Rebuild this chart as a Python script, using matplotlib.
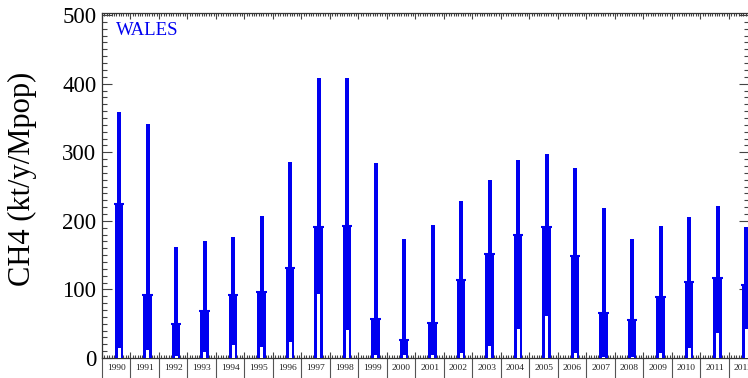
import matplotlib
matplotlib.use("Agg")
import matplotlib.pyplot as plt
from matplotlib.ticker import MultipleLocator
import matplotlib.transforms as mtransforms

years = list(range(1990, 2013))
max_vals = [359, 341, 162, 171, 177, 207, 286, 408, 408, 285, 174, 194, 229, 260,
            289, 297, 277, 219, 173, 192, 206, 222, 191]
mid_vals = [225, 92, 50, 68, 92, 96, 131, 191, 193, 57, 26, 51, 114, 151,
            180, 191, 148, 65, 56, 89, 111, 117, 107]
min_vals = [15, 11, 3, 9, 19, 16, 24, 94, 41, 5, 4, 4, 8, 18,
            43, 61, 8, 2, 2, 7, 14, 36, 43]
region = "WALES"
ylabel = "CH4 (kt/y/Mpop)"

blue = "#0000f0"
plt.rcParams['font.family'] = ['Liberation Serif', 'DejaVu Serif']

fig = plt.figure(figsize=(7.48, 3.78), dpi=100)
W, H = 748, 378
left, right, top, bottom = 102, 749, 13, 358
ax = fig.add_axes([left / W, 1 - bottom / H, (right - left) / W, (bottom - top) / H])

xs = [y + 0.6 for y in years]
ax.bar(xs, max_vals, width=0.14, color=blue, linewidth=0, zorder=2)
ax.bar(xs, mid_vals, width=0.29, color=blue, linewidth=0, zorder=3)
ax.hlines(mid_vals, [x - 0.18 for x in xs], [x + 0.18 for x in xs], color=blue, lw=1.5, zorder=3)
ax.bar(xs, min_vals, width=0.11, color="white", linewidth=0, zorder=4)

ax.set_xlim(1990, 1990 + (right - left) / 28.5)
ax.set_ylim(0, 503)

ax.yaxis.set_major_locator(MultipleLocator(100))
ax.yaxis.set_minor_locator(MultipleLocator(10))
ax.xaxis.set_major_locator(MultipleLocator(1))
ax.xaxis.set_minor_locator(MultipleLocator(1 / 12))
ax.tick_params(axis='both', which='both', direction='in', top=True, right=True,
               color='#444444', width=0.8)
ax.tick_params(axis='both', which='major', length=7)
ax.tick_params(axis='both', which='minor', length=3.5)
ax.tick_params(axis='x', which='major', length=4)
ax.tick_params(axis='x', which='minor', length=2.5)
ax.tick_params(axis='x', labelbottom=False)
ax.tick_params(axis='y', labelsize=16.5, pad=4)
for s in ax.spines.values():
    s.set_linewidth(0.9)
    s.set_color('#333333')

ax.set_ylabel(ylabel, fontsize=22)
ax.yaxis.set_label_coords(-0.1005, 0.519)

ax.text(1990.5, 490, region, color=blue, fontsize=13.5, va='top', ha='left')

trans = mtransforms.blended_transform_factory(ax.transData, ax.transAxes)
for y in years:
    ax.plot([y, y], [0, -0.06], transform=trans, color='#555555', lw=0.8, clip_on=False)
    ax.text(y + 0.5, -0.028, str(y), transform=trans, ha='center', va='center',
            fontsize=6.8, color='#222222', clip_on=False)

fig.savefig("out.png", dpi=100)
